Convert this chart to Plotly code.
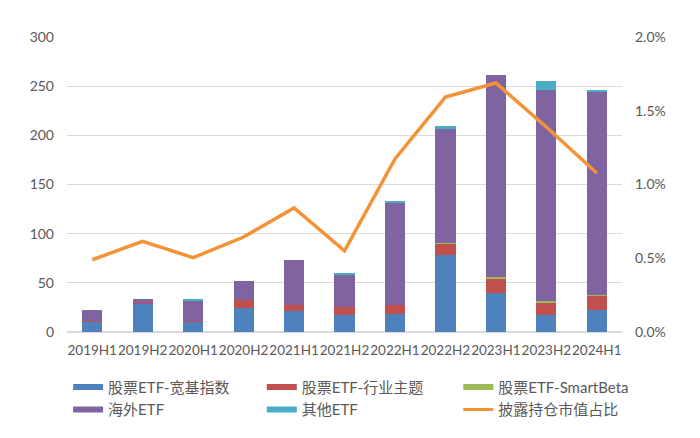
import plotly.graph_objects as go

categories = ["2019H1", "2019H2", "2020H1", "2020H2", "2021H1", "2021H2",
              "2022H1", "2022H2", "2023H1", "2023H2", "2024H1"]
broad_index = [10.8, 29.0, 10.8, 24.0, 21.7, 17.3, 18.6, 78.0, 39.6, 16.9, 22.7]
industry_theme = [0.8, 0.5, 0.5, 8.5, 6.1, 8.1, 9.2, 12.0, 14.6, 12.9, 14.3]
smart_beta = [0.0, 0.0, 0.0, 0.0, 0.0, 0.0, 0.0, 0.3, 1.8, 2.0, 0.3]
overseas = [10.8, 4.4, 21.1, 19.7, 45.4, 32.6, 104.0, 116.2, 205.0, 214.7, 207.2]
other_etf = [0.0, 0.0, 0.8, 0.0, 0.0, 2.0, 1.5, 3.5, 0.0, 8.8, 1.3]
holding_ratio = [0.0049, 0.00614, 0.00504, 0.00644, 0.00841, 0.00551,
                 0.01173, 0.01593, 0.01688, 0.0139, 0.01078]

names = ["股票ETF-宽基指数", "股票ETF-行业主题", "股票ETF-SmartBeta", "海外ETF", "其他ETF"]
series = [broad_index, industry_theme, smart_beta, overseas, other_etf]
colors = ["#4F81BD", "#C0504D", "#9BBB59", "#8064A2", "#4BACC6"]
line_name = "披露持仓市值占比"
line_color = "#F39237"

fig = go.Figure()
for n, s, c in zip(names, series, colors):
    fig.add_trace(go.Bar(x=categories, y=s, name=n, marker=dict(color=c, line=dict(width=0)),
                         showlegend=False, yaxis="y"))
fig.add_trace(go.Scatter(x=categories, y=holding_ratio, name=line_name, mode="lines",
                         line=dict(color=line_color, width=3.5), showlegend=False, yaxis="y2"))

# legend-only entries (wide swatches like the original), arranged in 3 columns
legend_ids = ["legend", "legend2", "legend3", "legend", "legend2"]
for i, (n, c, lg) in enumerate(zip(names, colors, legend_ids)):
    fig.add_trace(go.Scatter(x=[None], y=[None], mode="lines", name=n, legend=lg,
                             legendgroup=f"g{i}", line=dict(color=c, width=6)))
fig.add_trace(go.Scatter(x=[None], y=[None], mode="lines", name=line_name, legend="legend3",
                         legendgroup="g5", line=dict(color=line_color, width=3)))

font_fam = "Lato, 'Noto Sans CJK SC', sans-serif"
leg_font = dict(family=font_fam, size=15, color="#595959")
leg_common = dict(orientation="v", yanchor="top", y=-0.131, xanchor="left",
                  font=leg_font, bgcolor="rgba(0,0,0,0)", traceorder="normal",
                  tracegroupgap=6)
# page body has an 8px margin, so the figure is 692x430 to fill the 700x438 window
fig.update_layout(
    width=692, height=430,
    margin=dict(l=58.7, r=78.3, t=29.3, b=105.7, autoexpand=False),
    paper_bgcolor="white", plot_bgcolor="white",
    barmode="stack", bargap=0.6,
    font=dict(family=font_fam, color="#595959", size=14),
    xaxis=dict(showgrid=False, showline=False, ticks="", tickfont=dict(size=13.5),
               type="category", tickangle=0, ticklabelstandoff=8),
    yaxis=dict(range=[0, 300], dtick=50, showgrid=True, gridcolor="#D9D9D9", gridwidth=1,
               zeroline=True, zerolinecolor="#D9D9D9", showline=False, ticks="",
               tickfont=dict(size=14), ticklabelstandoff=12),
    yaxis2=dict(range=[0, 0.02], dtick=0.005, tickformat=".1%", overlaying="y", side="right",
                showgrid=False, zeroline=False, showline=False, ticks="",
                tickfont=dict(size=14), ticklabelstandoff=12),
    legend=dict(x=0.002, **leg_common),
    legend2=dict(x=0.351, **leg_common),
    legend3=dict(x=0.705, **leg_common),
    showlegend=True,
)
fig.write_html("out.html")
